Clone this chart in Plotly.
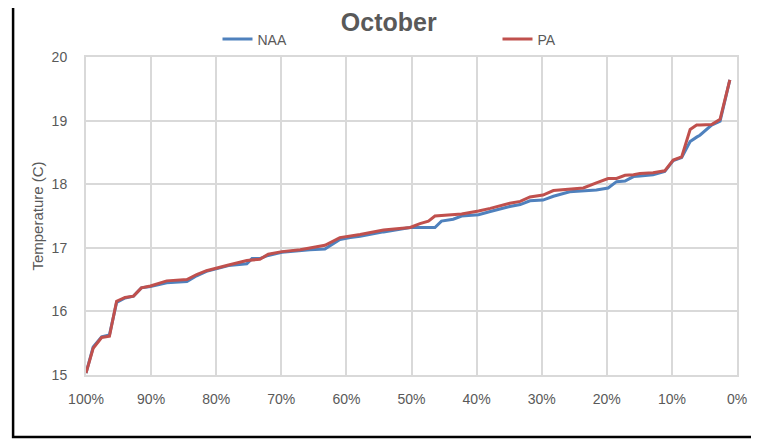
import plotly.graph_objs as go

# percentile of time exceeded (x) and temperature for both series
pct = [100.0, 98.9, 97.6, 96.4, 95.3, 94.0, 92.7, 91.5, 90.1, 87.6,
       84.5, 83.0, 81.5, 79.7, 78.1, 75.3, 74.5, 73.3, 72.0, 69.9,
       67.1, 65.6, 63.3, 61.0, 59.4, 57.9, 54.3, 50.2, 48.7, 47.4,
       46.4, 45.4, 43.6, 42.3, 39.7, 37.9, 34.9, 33.3, 31.8, 29.8,
       28.2, 25.7, 23.6, 21.6, 19.8, 18.5, 17.2, 15.9, 14.9, 12.9,
       11.1, 9.8, 8.5, 7.2, 6.2, 5.7, 3.9, 2.6, 1.1]

naa = [15.03, 15.44, 15.60, 15.63, 16.14, 16.21, 16.24, 16.37, 16.39, 16.45,
       16.47, 16.56, 16.63, 16.68, 16.72, 16.75, 16.83, 16.83, 16.88, 16.93,
       16.96, 16.97, 16.98, 17.13, 17.16, 17.18, 17.25, 17.32, 17.32, 17.32,
       17.32, 17.42, 17.45, 17.50, 17.52, 17.57, 17.65, 17.68, 17.74, 17.75,
       17.81, 17.88, 17.89, 17.91, 17.94, 18.04, 18.05, 18.12, 18.13, 18.15,
       18.20, 18.37, 18.42, 18.67, 18.74, 18.77, 18.93, 18.99, 19.64]

pa = [15.03, 15.42, 15.59, 15.61, 16.16, 16.22, 16.24, 16.37, 16.40, 16.48,
      16.50, 16.58, 16.64, 16.69, 16.73, 16.80, 16.81, 16.82, 16.90, 16.94,
      16.97, 17.00, 17.04, 17.16, 17.18, 17.21, 17.28, 17.32, 17.38, 17.42,
      17.50, 17.51, 17.52, 17.53, 17.58, 17.62, 17.70, 17.73, 17.80, 17.83,
      17.90, 17.92, 17.94, 18.02, 18.09, 18.09, 18.14, 18.15, 18.17, 18.18,
      18.21, 18.38, 18.43, 18.86, 18.93, 18.93, 18.94, 19.02, 19.64]

x_ticks = [100, 90, 80, 70, 60, 50, 40, 30, 20, 10, 0]
x_labels = ['100%', '90%', '80%', '70%', '60%', '50%', '40%', '30%', '20%', '10%', '0%']
y_ticks = [15, 16, 17, 18, 19, 20]

GREY = '#595959'
GRID = '#d9d9d9'
FONT = 'Liberation Sans'

fig = go.Figure()
fig.add_trace(go.Scatter(x=pct, y=naa, mode='lines', name='NAA',
                         line=dict(color='#4F81BD', width=3)))
fig.add_trace(go.Scatter(x=pct, y=pa, mode='lines', name='PA',
                         line=dict(color='#C0504D', width=3)))

# page body has an 8px margin, so the figure is sized 8px smaller each way
fig.update_layout(
    width=751, height=433,
    margin=dict(l=78, r=22, t=49, b=66, autoexpand=False),
    paper_bgcolor='white', plot_bgcolor='white',
    font=dict(family=FONT, color=GREY, size=14),
    title=dict(text='<b>October</b>', x=0.507, xref='container', xanchor='center',
               y=0.968, yref='container', yanchor='middle',
               font=dict(size=25, color=GREY, family=FONT)),
    legend=dict(orientation='h', x=0.202, xanchor='left', y=1.055, yanchor='middle',
                entrywidth=235, entrywidthmode='pixels',
                font=dict(size=14, color=GREY), bgcolor='rgba(0,0,0,0)'),
    showlegend=True,
)

fig.update_xaxes(range=[100, 0], tickvals=x_ticks, ticktext=x_labels,
                 showgrid=True, gridcolor=GRID, gridwidth=2,
                 showline=True, linecolor=GRID, linewidth=2, mirror=True,
                 zeroline=False, ticks='', ticklabelstandoff=10, automargin=False,
                 tickfont=dict(size=14, color=GREY))
fig.update_yaxes(range=[15, 20], tickvals=y_ticks,
                 showgrid=True, gridcolor=GRID, gridwidth=2,
                 showline=True, linecolor=GRID, linewidth=2, mirror=True,
                 zeroline=False, ticks='', ticklabelstandoff=14, automargin=False,
                 title=dict(text='Temperature (C)', standoff=4,
                            font=dict(size=15, color=GREY)),
                 tickfont=dict(size=14, color=GREY))

# cropped chart frame: left and bottom edges
fig.add_shape(type='path', xref='paper', yref='paper',
              path='M -0.112 1.2 L -0.112 -0.195 L 1.1 -0.195',
              line=dict(color='black', width=2.5))

fig.write_html("out.html")
